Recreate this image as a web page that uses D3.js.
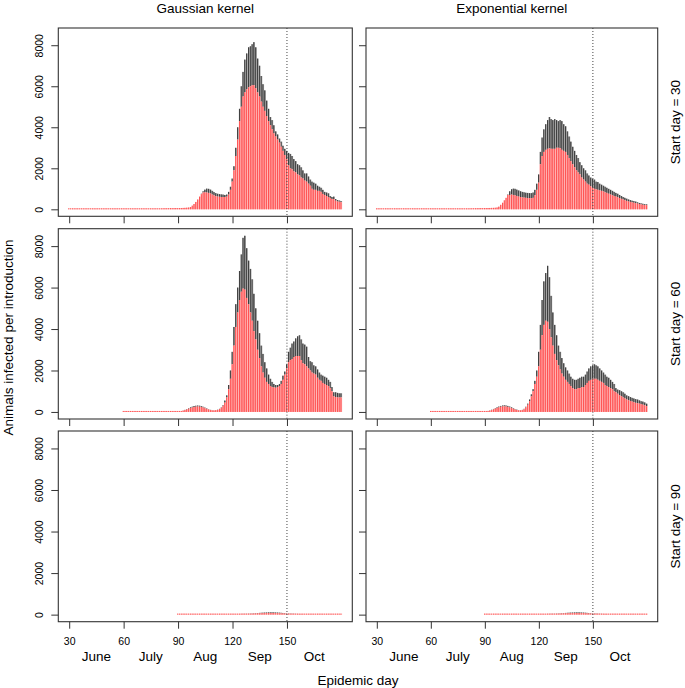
<!DOCTYPE html>
<html><head><meta charset="utf-8">
<script src="https://cdn.jsdelivr.net/npm/d3@7"></script>
<style>
body{margin:0;background:#fff}
svg{display:block}
text{font-family:"Liberation Sans",Arial,Helvetica,sans-serif;fill:#000}
</style>
</head><body>
<svg id="chart" width="685" height="688"></svg>
<script>
// ---------------- data ----------------
const kernels = ["Gaussian kernel", "Exponential kernel"];
const startDays = [30, 60, 90];
const rowLabels = ["Start day = 30", "Start day = 60", "Start day = 90"];
const xTicks = [30, 60, 90, 120, 150];
const yTicks = [0, 2000, 4000, 6000, 8000];
const months = ["June", "July", "Aug", "Sep", "Oct"];
const monthMid = [45, 75, 105, 135, 165];
const endDay = 180;
const markerDay = 150;
const yMax = 8500;

// Gaussian kernel, start day 30 (days 30..180)
const gauss30Total = [
 2,2,3,2,3,3,2,3,3,4, 3,4,4,3,4,5,4,5,5,6, 5,6,7,6,7,8,7,8,9,8,
 9,10,11,10,12,13,12,14,15,14, 16,18,17,20,22,24,26,28,30,35,
 45,50,52,55,55,58,60,58,60,62, 60,62,65,68,72,80,90,110,180,260,
 360,480,620,760,880,960,1010,1000,960,900, 840,790,760,740,730,720,700,720,850,1100,
 1500,2100,3000,4000,4900,6000,6700,7300,7600,7900, 7950,8050,8150,7900,7350,7000,6500,6100,5800,5300,
 4900,4500,4350,4100,3800,3650,3450,3300,3100,2950, 2850,2750,2700,2600,2450,2350,2200,2150,2050,1900,
 1750,1750,1600,1450,1350,1300,1250,1150,1100,1050, 950,850,820,780,650,600,620,500,450,430, 400];
const gauss30Red = [
 2,2,3,2,3,3,2,3,3,4, 3,4,4,3,4,5,4,5,5,6, 5,6,7,6,7,8,7,8,9,8,
 9,10,11,10,12,13,12,14,15,14, 16,18,17,20,22,24,26,28,30,35,
 45,50,52,55,55,58,60,58,60,62, 60,62,65,68,72,80,90,110,180,260,
 360,480,620,740,820,830,820,800,770,720, 680,640,620,610,600,600,600,620,720,950,
 1350,1900,2600,3400,4300,5000,5500,5700,5850,5950, 6000,6050,6050,5900,5700,5500,5250,5000,4800,4550,
 4300,4100,3900,3700,3550,3400,3250,3050,2850,2650, 2450,2150,2000,1950,1850,1800,1700,1650,1550,1500,
 1400,1350,1250,1150,1000,950,950,900,900,850, 750,700,650,600,550,500,500,420,380,370, 350];

// Exponential kernel, start day 30 (days 30..180)
const expo30Total = [
 2,3,2,3,3,2,3,4,3,4, 4,3,4,5,4,5,5,6,5,6, 6,7,6,7,8,8,7,9,8,9,
 10,10,11,12,11,13,14,13,15,16, 17,18,20,21,23,25,27,30,33,38,
 45,48,50,52,55,55,57,58,60,60, 62,63,65,66,70,72,78,90,130,220,
 320,440,560,720,880,980,1010,1000,960,920, 880,850,830,810,800,790,790,820,950,1250,
 1700,2800,3500,3900,4150,4350,4500,4400,4350,4400, 4350,4300,4350,4300,4150,4050,3800,3550,3300,3050,
 2850,2650,2500,2300,2150,2000,1900,1750,1650,1550, 1480,1450,1350,1330,1250,1200,1150,1100,1050,1000,
 950,900,850,800,760,700,650,600,560,520, 480,450,420,400,380,340,310,290,270,250, 240];
const expo30Red = [
 2,3,2,3,3,2,3,4,3,4, 4,3,4,5,4,5,5,6,5,6, 6,7,6,7,8,8,7,9,8,9,
 10,10,11,12,11,13,14,13,15,16, 17,18,20,21,23,25,27,30,33,38,
 45,48,50,52,55,55,57,58,60,60, 62,63,65,66,70,72,78,90,130,220,
 320,440,560,700,700,720,700,680,650,620, 600,580,570,560,550,540,540,560,680,950,
 1300,2200,2600,2800,2900,2950,2980,2950,2950,2950, 3000,3000,2980,2900,2850,2800,2650,2500,2350,2200,
 2050,1900,1800,1700,1550,1450,1350,1250,1200,1120, 1050,1000,980,950,920,900,870,830,800,760,
 720,690,650,620,590,550,510,480,440,410, 380,360,340,320,300,280,260,240,220,210, 200];

// Gaussian kernel, start day 60 (days 60..180)
const gauss60Total = [
 3,4,4,5,5,6,6,7,7,8, 8,9,9,10,10,11,12,12,13,14, 15,16,16,17,18,18,19,20,20,22,
 25,30,45,70,100,140,180,220,255,285, 300,310,300,280,250,210,170,130,100,85,
 80,90,110,150,220,330,550,800,1300,2000, 2900,4100,5200,6000,6800,7600,8400,8500,7900,7300,
 6900,6400,5700,5000,4400,3800,3200,2800,2400,2100, 1800,1600,1450,1350,1300,1300,1350,1500,1750,1950,
 2300,2900,3100,3300,3400,3550,3650,3700,3500,3300, 3250,3150,2650,2450,2400,2250,2200,2050,1900,1800,
 1750,1700,1650,1550,1450,1200,950,950,920,900, 900];
const gauss60Red = [
 3,4,4,5,5,6,6,7,7,8, 8,9,9,10,10,11,12,12,13,14, 15,16,16,17,18,18,19,20,20,22,
 25,30,42,62,88,120,155,190,215,240, 255,260,255,240,215,180,148,115,90,78,
 75,85,100,140,200,300,450,700,1100,1600, 2300,3200,4100,4800,5400,5800,5950,5900,5500,5200,
 4800,4400,3900,3500,3000,2600,2200,1900,1650,1450, 1350,1250,1200,1180,1170,1200,1250,1350,1550,1800,
 2100,2400,2500,2550,2650,2700,2700,2700,2500,2350, 2300,2200,2100,2000,1900,1850,1800,1650,1550,1500,
 1400,1350,1300,1250,1150,1000,750,720,700,700, 700];

// Exponential kernel, start day 60 (days 60..180)
const expo60Total = [
 3,3,4,4,5,5,6,6,7,7, 8,8,9,10,10,11,11,12,13,14, 15,15,16,17,17,18,19,20,21,22,
 25,32,48,75,105,145,185,225,260,290, 310,320,310,290,260,220,180,140,110,90,
 85,100,150,250,400,600,850,1100,1500,2000, 2900,4200,5400,6300,6700,7050,6500,5600,4800,4200,
 3700,3200,2900,2600,2350,2150,2000,1850,1700,1600, 1550,1550,1600,1650,1700,1700,1800,1950,2100,2200,
 2250,2300,2250,2200,2100,2000,1900,1800,1700,1650, 1550,1450,1350,1150,1080,1050,1000,950,880,800,
 760,720,680,650,620,600,560,520,500,460, 400];
const expo60Red = [
 3,3,4,4,5,5,6,6,7,7, 8,8,9,10,10,11,11,12,13,14, 15,15,16,17,17,18,19,20,21,22,
 25,30,42,65,90,125,160,195,225,250, 265,270,262,245,220,185,152,118,92,78,
 75,90,130,220,350,520,750,1000,1350,1700, 2200,3000,3700,4200,4400,4350,4000,3600,3200,2800,
 2500,2250,2050,1850,1700,1550,1450,1350,1250,1150, 1100,1100,1150,1150,1200,1200,1300,1400,1500,1550,
 1600,1600,1600,1550,1500,1450,1400,1300,1250,1200, 1150,1100,1000,950,880,800,760,700,650,600,
 560,530,500,470,440,420,400,380,350,320, 280];

// Gaussian kernel, start day 90 (days 90..180)
const gauss90Total = [
 5,6,6,7,7,8,8,9,9,10, 10,11,11,12,12,13,13,14,15,15, 16,17,18,18,19,20,21,22,23,24,
 25,27,29,31,33,36,39,42,46,50, 55,60,66,72,78,84,90,95,100,104,
 107,110,110,108,105,100,95,88,80,72, 64,56,50,44,40,36,33,30,28,26,
 24,22,21,20,19,18,17,16,16,15, 14,14,13,13,12,12,11,11,10,10, 10];
const gauss90Red = [
 5,6,6,7,7,8,8,9,9,10, 10,11,11,12,12,13,13,14,15,15, 16,17,18,18,19,20,21,22,23,24,
 25,27,28,30,31,33,35,37,40,43, 46,49,53,56,60,63,66,68,70,72,
 73,74,74,73,71,68,65,61,57,53, 48,44,40,36,33,31,29,27,25,24,
 22,21,20,19,18,17,16,15,15,14, 14,13,13,12,12,11,11,10,10,10, 10];

// Exponential kernel, start day 90 (days 90..180)
const expo90Total = [
 4,5,5,6,6,7,7,8,8,9, 9,10,10,11,11,12,12,13,14,14, 15,16,17,17,18,19,20,21,22,23,
 24,26,28,30,32,35,38,41,45,49, 54,59,64,70,76,82,88,93,98,102,
 105,108,108,106,103,98,92,85,77,70, 62,55,49,43,39,35,32,29,27,25,
 23,21,20,19,18,17,16,15,15,14, 13,13,12,12,11,11,10,10,9,9, 9];
const expo90Red = [
 4,5,5,6,6,7,7,8,8,9, 9,10,10,11,11,12,12,13,14,14, 15,16,17,17,18,19,20,21,22,23,
 24,26,27,29,30,32,34,36,39,42, 45,48,52,55,59,62,65,67,69,71,
 72,73,73,72,70,67,64,60,56,52, 47,43,39,35,32,30,28,26,24,23,
 21,20,19,18,17,16,15,14,14,13, 12,12,11,11,10,10,9,9,9,9, 9];

// ---------------- layout ----------------
const colX = [[58.3, 352.3], [366, 657.7]];
const rowY = [[28, 216.3], [228.7, 419], [431, 621.7]];
const panels = [
  {row:0, col:0, total:gauss30Total, red:gauss30Red},
  {row:0, col:1, total:expo30Total,  red:expo30Red},
  {row:1, col:0, total:gauss60Total, red:gauss60Red},
  {row:1, col:1, total:expo60Total,  red:expo60Red},
  {row:2, col:0, total:gauss90Total, red:gauss90Red},
  {row:2, col:1, total:expo90Total,  red:expo90Red}
];

const svg = d3.select("#chart");
const xLo = xTicks[0], xHi = endDay;
const xPad = 0.04 * (xHi - xLo);

panels.forEach(p => {
  const [x0, x1] = colX[p.col];
  const [y0, y1] = rowY[p.row];
  const start = startDays[p.row];
  const x = d3.scaleLinear().domain([xLo - xPad, xHi + xPad]).range([x0, x1]);
  const y = d3.scaleLinear().domain([-0.04 * yMax, yMax * 1.04]).range([y1, y0]);
  const g = svg.append("g");
  const step = x(1) - x(0);
  const bars = p.total.map((t, i) => ({day: start + i, total: t, red: p.red[i]}));
  const base = y(0);

  // grey (upper) part
  const upper = bars.filter(d => y(d.red) - y(d.total) > 0.05);
  g.selectAll(".gl").data(upper).join("rect")
    .attr("x", d => x(d.day) - step * 0.45).attr("width", step * 0.82)
    .attr("y", d => y(d.total)).attr("height", d => y(d.red) - y(d.total))
    .attr("fill", "#858585");
  g.selectAll(".gd").data(upper).join("rect")
    .attr("x", d => x(d.day) - step * 0.45).attr("width", step * 0.3)
    .attr("y", d => y(d.total)).attr("height", d => y(d.red) - y(d.total))
    .attr("fill", "#000");

  // red (lower) part
  const rh = d => Math.max(1, base - y(d.red));
  g.selectAll(".rl").data(bars).join("rect")
    .attr("x", d => x(d.day) - step * 0.45).attr("width", step * 0.82)
    .attr("y", d => base - rh(d)).attr("height", rh)
    .attr("fill", "#ff9595");
  g.selectAll(".rd").data(bars).join("rect")
    .attr("x", d => x(d.day) - step * 0.45).attr("width", step * 0.3)
    .attr("y", d => base - rh(d)).attr("height", rh)
    .attr("fill", "#ff1a1a");

  // dotted marker line
  g.append("line")
    .attr("x1", x(markerDay)).attr("x2", x(markerDay))
    .attr("y1", y0).attr("y2", y1)
    .attr("stroke", "#444").attr("stroke-width", 1).attr("stroke-dasharray", "1,2");

  // box
  g.append("rect").attr("x", x0).attr("y", y0)
    .attr("width", x1 - x0).attr("height", y1 - y0)
    .attr("fill", "none").attr("stroke", "#333").attr("stroke-width", 1.1);

  // x axis
  const ax = g.append("g").attr("transform", `translate(0,${y1})`)
    .call(d3.axisBottom(x).tickValues(xTicks).tickSize(7)
      .tickFormat(p.row === 2 ? d3.format("d") : () => ""));
  ax.select(".domain").remove();
  ax.selectAll(".tick line").attr("stroke", "#333");
  ax.selectAll(".tick text").attr("y", 23.8).attr("dy", "0")
    .style("font-size", "10.5px").style("font-family", "'Liberation Sans', Arial, sans-serif").attr("fill", "#000");

  if (p.row === 2) {
    g.selectAll(".month").data(months).join("text")
      .attr("x", (m, i) => x(monthMid[i])).attr("y", 661)
      .attr("text-anchor", "middle").style("font-size", "13.5px")
      .text(m => m);
  }

  // y axis
  const ay = g.append("g").attr("transform", `translate(${x0},0)`)
    .call(d3.axisLeft(y).tickValues(yTicks).tickSize(7)
      .tickFormat(p.col === 0 ? d3.format("d") : () => ""));
  ay.select(".domain").remove();
  ay.selectAll(".tick line").attr("stroke", "#333");
  ay.selectAll(".tick text")
    .attr("transform", "rotate(-90)").attr("x", 0).attr("y", -15.8).attr("dy", "0")
    .attr("text-anchor", "middle")
    .style("font-size", "10.5px").style("font-family", "'Liberation Sans', Arial, sans-serif").attr("fill", "#000");
});

// column titles
kernels.forEach((k, i) => {
  svg.append("text").attr("x", (colX[i][0] + colX[i][1]) / 2).attr("y", 12.7)
    .attr("text-anchor", "middle").style("font-size", "13.5px").text(k);
});
// row labels
rowLabels.forEach((r, i) => {
  const cy = (rowY[i][0] + rowY[i][1]) / 2;
  svg.append("text").attr("transform", `translate(679.7,${cy}) rotate(-90)`)
    .attr("text-anchor", "middle").style("font-size", "13.5px").text(r);
});
// axis titles
svg.append("text").attr("x", (colX[0][0] + colX[1][1]) / 2).attr("y", 684.5)
  .attr("text-anchor", "middle").style("font-size", "13.5px").text("Epidemic day");
svg.append("text").attr("transform", "translate(12.5,337.5) rotate(-90)")
  .attr("text-anchor", "middle").style("font-size", "13.5px").text("Animals infected per introduction");
</script>
</body></html>
